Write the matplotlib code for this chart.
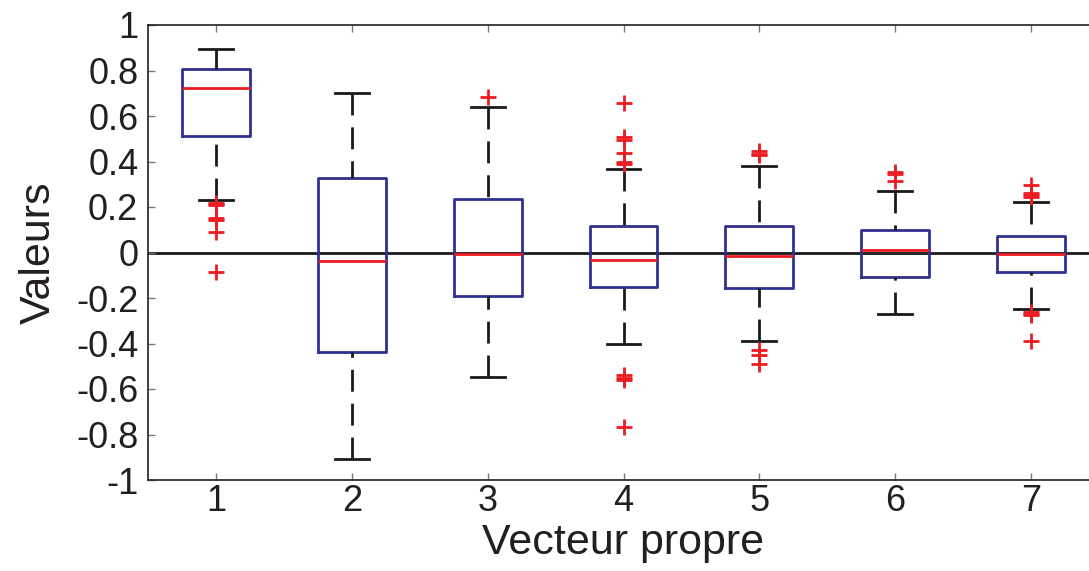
import matplotlib
matplotlib.use("Agg")
import matplotlib.pyplot as plt

# ---- data ----
positions = [1, 2, 3, 4, 5, 6, 7]
whis_lo = [0.229, -0.906, -0.549, -0.402, -0.389, -0.269, -0.247]
q1s     = [0.513, -0.436, -0.191, -0.152, -0.156, -0.108, -0.084]
medians = [0.722, -0.037, -0.007, -0.033, -0.014, 0.011, -0.008]
q3s     = [0.805, 0.329, 0.235, 0.116, 0.115, 0.099, 0.074]
whis_hi = [0.893, 0.700, 0.638, 0.367, 0.379, 0.272, 0.223]
fliers = [
    [0.219, 0.213, 0.208, 0.150, 0.143, 0.089, -0.087],
    [],
    [0.682],
    [0.659, 0.506, 0.495, 0.439, 0.398, 0.389, -0.538, -0.551, -0.560, -0.768],
    [0.446, 0.432, 0.427, -0.430, -0.452, -0.491],
    [0.355, 0.345, 0.316],
    [0.295, 0.260, 0.252, 0.246, -0.263, -0.270, -0.276, -0.389],
]
xticks = [1, 2, 3, 4, 5, 6, 7]
yticks = [-1, -0.8, -0.6, -0.4, -0.2, 0, 0.2, 0.4, 0.6, 0.8, 1]
ytick_labels = ["-1", "-0.8", "-0.6", "-0.4", "-0.2", "0", "0.2", "0.4", "0.6", "0.8", "1"]
xlabel = "Vecteur propre"
ylabel = "Valeurs"

plt.rcParams['font.family'] = ['Liberation Sans', 'DejaVu Sans']
txt_color = '#231F20'

fig = plt.figure(figsize=(10.89, 5.71), dpi=100)
ax = fig.add_axes([148 / 1089, 91 / 571, 951 / 1089, 455 / 571])

ax.axhline(0, color='#1a1a1a', lw=2.0, zorder=1)

stats = []
for i in range(len(positions)):
    stats.append(dict(whislo=whis_lo[i], q1=q1s[i], med=medians[i], q3=q3s[i],
                      whishi=whis_hi[i], fliers=fliers[i]))

blue = '#2E3192'
red = '#ED1C24'
res = ax.bxp(stats, positions=positions, widths=0.5, capwidths=0.25,
             showfliers=True, patch_artist=False,
             boxprops=dict(color=blue, lw=2.0),
             medianprops=dict(color=red, lw=2.0),
             whiskerprops=dict(color='#1a1a1a', lw=2.0, linestyle=(0, (7.9, 4.3))),
             capprops=dict(color='#1a1a1a', lw=2.0),
             flierprops=dict(marker='+', markeredgecolor=red, markersize=12,
                             markeredgewidth=2.0, linestyle='none'),
             zorder=2)
# dashes start at the cap, as in the reference
for w in res['whiskers']:
    x, y = w.get_data()
    w.set_data(list(x)[::-1], list(y)[::-1])

ax.set_xlim(0.5, 7.5)
ax.set_ylim(-1, 1)
ax.set_xticks(xticks)
ax.set_xticklabels([str(t) for t in xticks])
ax.set_yticks(yticks)
ax.set_yticklabels(ytick_labels)
ax.tick_params(direction='in', length=5, width=1, color='#777777',
               labelsize=26, labelcolor=txt_color, top=True, right=True)
ax.tick_params(axis='y', pad=7)
ax.tick_params(axis='x', pad=3)
for s in ax.spines.values():
    s.set_linewidth(1.2)
    s.set_color('#231F20')

ax.set_xlabel(xlabel, fontsize=31, color=txt_color, labelpad=3)
ax.set_ylabel(ylabel, fontsize=31, color=txt_color, labelpad=12)

fig.savefig("out.png", dpi=100)
